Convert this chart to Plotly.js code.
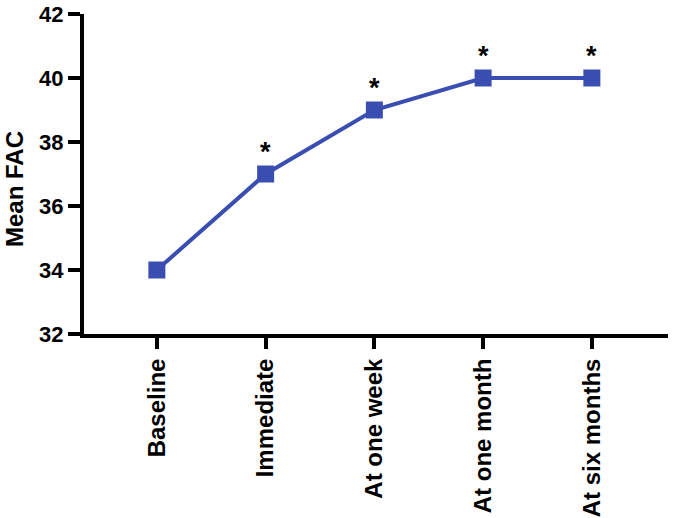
<!DOCTYPE html>
<html><head><meta charset="utf-8">
<script src="https://cdn.plot.ly/plotly-3.0.1.min.js"></script>
<style>html,body{margin:0;padding:0;background:#fff}#chart{width:675px;height:518px}</style>
</head><body><div id="chart"></div>
<script>
const categories = ["Baseline", "Immediate", "At one week", "At one month", "At six months"];
const meanFAC = [34, 37, 39, 40, 40];
const significance = ["", "*", "*", "*", "*"];
const yTicks = [32, 34, 36, 38, 40, 42];
const yTitle = "<b>Mean FAC</b>";

const FONT = "Liberation Sans, Arial, sans-serif";
const trace = {
  x: categories,
  y: meanFAC,
  mode: "lines+markers",
  line: {color: "#3a4eb1", width: 4},
  marker: {symbol: "square", size: 17, color: "#3a4eb1"},
  cliponaxis: false,
  hoverinfo: "none"
};

const starAnnotations = categories.map((c, i) => ({
  x: c, y: meanFAC[i], xref: "x", yref: "y",
  text: significance[i] ? "<b>" + significance[i] + "</b>" : "",
  showarrow: false, xanchor: "center", yanchor: "middle", yshift: 22,
  font: {family: FONT, size: 27, color: "#000"}
})).filter(a => a.text);

const layout = {
  width: 675, height: 518,
  margin: {l: 84, r: 7, t: 14, b: 184},
  paper_bgcolor: "#fff", plot_bgcolor: "#fff",
  showlegend: false,
  xaxis: {
    type: "category",
    range: [-0.67, 4.7],
    showgrid: false, zeroline: false,
    showline: true, linecolor: "#000", linewidth: 4,
    ticks: "outside", ticklen: 11, tickwidth: 4, tickcolor: "#000",
    tickangle: -90,
    tickfont: {family: FONT, size: 24, color: "#000", weight: "bold"}
  },
  yaxis: {
    range: [32, 42],
    tickvals: yTicks,
    showgrid: false, zeroline: false,
    showline: true, linecolor: "#000", linewidth: 4,
    ticks: "outside", ticklen: 12, tickwidth: 4, tickcolor: "#000",
    tickfont: {family: FONT, size: 22, color: "#000", weight: "bold"}
  },
  annotations: [{
    text: yTitle, textangle: -90, showarrow: false,
    xref: "paper", yref: "paper",
    x: (14 - 84) / 584, y: (334 - 189) / 320,
    xanchor: "center", yanchor: "middle",
    font: {family: FONT, size: 24, color: "#000"}
  }].concat(starAnnotations)
};
Plotly.newPlot("chart", [trace], layout, {displayModeBar: false, staticPlot: true});
</script>
</body></html>
